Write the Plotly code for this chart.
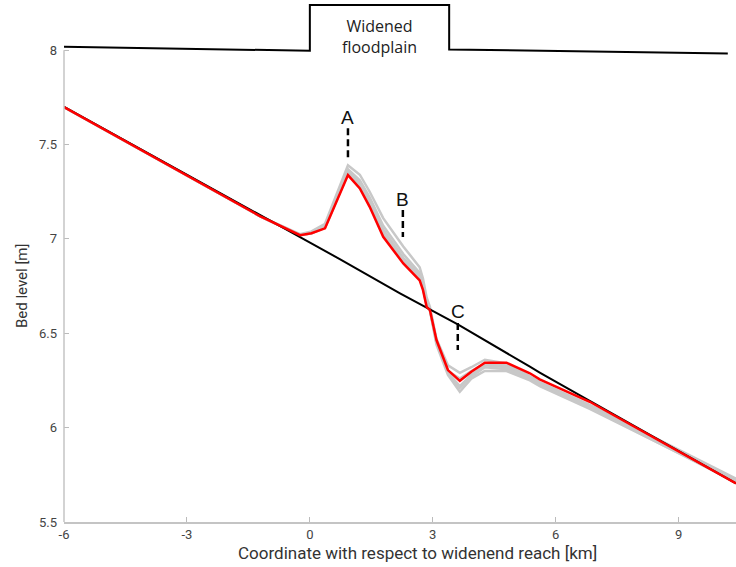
import plotly.graph_objects as go

# ---- data ----
x_km = [-6, -1.22, -0.24, 0.04, 0.37, 0.93, 1.22, 1.46, 1.79, 2.28, 2.68, 2.76, 2.85, 2.93,
        3.09, 3.37, 3.66, 3.94, 4.27, 4.8, 5.37, 5.61, 6.83, 10.4]

red_bed = [7.698, 7.121, 7.02, 7.03, 7.056, 7.338, 7.267, 7.17, 7.011, 6.87, 6.78, 6.73, 6.64, 6.623,
           6.464, 6.305, 6.248, 6.296, 6.344, 6.344, 6.288, 6.256, 6.137, 5.705]

gray_runs = [
    [7.698, 7.121, 7.025, 7.04, 7.08, 7.39, 7.34, 7.25, 7.11, 6.96, 6.85, 6.79, 6.69, 6.64,
     6.47, 6.33, 6.29, 6.32, 6.36, 6.34, 6.27, 6.24, 6.12, 5.73],
    [7.698, 7.121, 7.02, 7.035, 7.07, 7.37, 7.31, 7.22, 7.07, 6.92, 6.82, 6.76, 6.67, 6.63,
     6.45, 6.29, 6.22, 6.28, 6.33, 6.32, 6.26, 6.23, 6.11, 5.725],
    [7.698, 7.121, 7.02, 7.03, 7.065, 7.36, 7.30, 7.20, 7.05, 6.90, 6.81, 6.75, 6.66, 6.62,
     6.44, 6.28, 6.19, 6.26, 6.30, 6.30, 6.25, 6.22, 6.10, 5.715],
    [7.698, 7.121, 7.02, 7.03, 7.06, 7.35, 7.29, 7.19, 7.03, 6.89, 6.80, 6.74, 6.65, 6.62,
     6.46, 6.30, 6.26, 6.30, 6.34, 6.33, 6.27, 6.24, 6.115, 5.72],
    [7.698, 7.121, 7.02, 7.03, 7.06, 7.345, 7.28, 7.185, 7.025, 6.885, 6.79, 6.74, 6.65, 6.625,
     6.46, 6.29, 6.21, 6.27, 6.32, 6.31, 6.26, 6.23, 6.105, 5.71],
]

black_x = [-6, -0.24, 0.73, 2.2, 2.85, 3.61, 5.37, 5.61, 6.83, 10.4]
black_bed = [7.70, 7.012, 6.893, 6.712, 6.636, 6.547, 6.323, 6.292, 6.142, 5.705]

plain_x = [-6, 0, 0, 3.4, 3.4, 10.2]
plain_y = [8.018, 7.997, 8.24, 8.24, 8.004, 7.982]
plain_label = "Widened<br>floodplain"
plain_label_x = 1.7
plain_label_y = 8.075

marker_labels = ["A", "B", "C"]
marker_x = [0.93, 2.27, 3.61]
marker_top = [7.587, 7.153, 6.554]
marker_bottom = [7.433, 7.01, 6.411]
marker_text_y = [7.645, 7.21, 6.613]

x_ticks = [-6, -3, 0, 3, 6, 9]
x_tick_text = ["-6", "-3", "0", "3", "6", "9"]
y_ticks = [5.5, 6, 6.5, 7, 7.5, 8]
y_tick_text = ["5.5", "6", "6.5", "7", "7.5", "8"]
x_range = [-6, 10.4]
y_range = [5.5, 8.25]

fig = go.Figure()

for g in gray_runs:
    fig.add_trace(go.Scatter(x=x_km, y=g, mode="lines",
                             line=dict(color="#c8c8c8", width=2.5), hoverinfo="skip"))

fig.add_trace(go.Scatter(x=black_x, y=black_bed, mode="lines",
                         line=dict(color="#000000", width=2)))
fig.add_trace(go.Scatter(x=x_km, y=red_bed, mode="lines",
                         line=dict(color="#ff0000", width=2.5)))

fig.add_trace(go.Scatter(x=plain_x, y=plain_y, mode="lines",
                         line=dict(color="#000000", width=2)))

for mx, t, b in zip(marker_x, marker_top, marker_bottom):
    fig.add_trace(go.Scatter(x=[mx, mx], y=[t, b], mode="lines",
                             line=dict(color="#000000", width=2.5, dash="7px,4px")))

for lab, mx, ty in zip(marker_labels, marker_x, marker_text_y):
    fig.add_annotation(x=mx, y=ty, text=lab, showarrow=False,
                       font=dict(family="Liberation Sans, Arial", size=19, color="#111111"))

fig.add_annotation(x=plain_label_x, y=plain_label_y, text=plain_label, showarrow=False,
                   font=dict(family="Open Sans", size=16, color="#222222"))

# y-axis line from 5.5 to 8 only
y_top_frac = (y_ticks[-1] - y_range[0]) / (y_range[1] - y_range[0])
fig.add_shape(type="line", xref="paper", yref="paper", x0=0, x1=0, y0=0, y1=y_top_frac,
              line=dict(color="#c4c4c4", width=1.5))

# axis titles
fig.add_annotation(xref="paper", x=0, xshift=-42, xanchor="center", yanchor="middle",
                   yref="y", y=(y_ticks[0] + y_ticks[-1]) / 2,
                   text="Bed level [m]", textangle=-90, showarrow=False,
                   font=dict(family="Roboto", size=15, color="#333333"))
fig.add_annotation(xref="x", x=2.63, yref="paper", y=0, yshift=-31,
                   xanchor="center", yanchor="middle",
                   text="Coordinate with respect to widenend reach [km]", showarrow=False,
                   font=dict(family="Roboto", size=17, color="#333333"))

fig.update_layout(
    width=736, height=567,
    margin=dict(l=64, r=0, t=3, b=45),
    paper_bgcolor="white", plot_bgcolor="white",
    showlegend=False,
    xaxis=dict(range=x_range, tickvals=x_ticks, ticktext=x_tick_text, ticks="inside", ticklen=5,
               tickcolor="#bbbbbb", showline=True, linecolor="#c4c4c4", linewidth=1.5,
               showgrid=False, zeroline=False,
               tickfont=dict(family="Roboto", size=13, color="#444444")),
    yaxis=dict(range=y_range, tickvals=y_ticks, ticktext=y_tick_text, ticks="inside",
               ticklen=5, tickcolor="#bbbbbb", showline=False, showgrid=False, zeroline=False,
               ticklabelstandoff=6,
               tickfont=dict(family="Roboto", size=13, color="#444444")),
)

fig.write_html("out.html", config={"displayModeBar": False},
               post_script="document.body.style.margin='0px';")
